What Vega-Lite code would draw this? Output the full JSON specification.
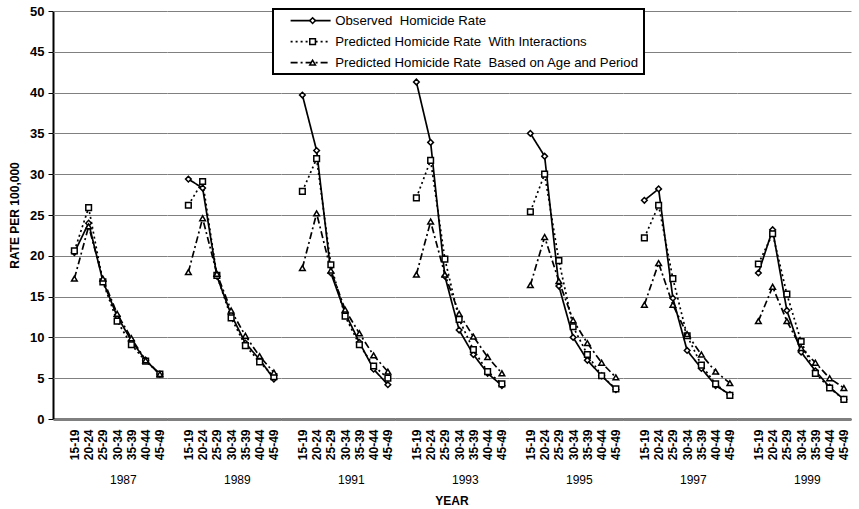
{
  "$schema": "https://vega.github.io/schema/vega-lite/v6.json",
  "background": "white",
  "padding": {"left": 8, "top": 5, "right": 5, "bottom": 0},
  "data": {"values": [
    {"year": "1987", "age": "15-19", "series": "A", "rate": 20.4},
    {"year": "1987", "age": "20-24", "series": "A", "rate": 24.0},
    {"year": "1987", "age": "25-29", "series": "A", "rate": 16.9},
    {"year": "1987", "age": "30-34", "series": "A", "rate": 12.6},
    {"year": "1987", "age": "35-39", "series": "A", "rate": 9.6},
    {"year": "1987", "age": "40-44", "series": "A", "rate": 7.2},
    {"year": "1987", "age": "45-49", "series": "A", "rate": 5.5},
    {"year": "1987", "age": "15-19", "series": "B", "rate": 20.6},
    {"year": "1987", "age": "20-24", "series": "B", "rate": 25.9},
    {"year": "1987", "age": "25-29", "series": "B", "rate": 16.8},
    {"year": "1987", "age": "30-34", "series": "B", "rate": 12.0},
    {"year": "1987", "age": "35-39", "series": "B", "rate": 9.1},
    {"year": "1987", "age": "40-44", "series": "B", "rate": 7.1},
    {"year": "1987", "age": "45-49", "series": "B", "rate": 5.5},
    {"year": "1987", "age": "15-19", "series": "C", "rate": 17.2},
    {"year": "1987", "age": "20-24", "series": "C", "rate": 23.6},
    {"year": "1987", "age": "25-29", "series": "C", "rate": 17.2},
    {"year": "1987", "age": "30-34", "series": "C", "rate": 12.9},
    {"year": "1987", "age": "35-39", "series": "C", "rate": 9.9},
    {"year": "1987", "age": "40-44", "series": "C", "rate": 7.2},
    {"year": "1987", "age": "45-49", "series": "C", "rate": 5.5},
    {"year": "1989", "age": "15-19", "series": "A", "rate": 29.4},
    {"year": "1989", "age": "20-24", "series": "A", "rate": 28.3},
    {"year": "1989", "age": "25-29", "series": "A", "rate": 17.5},
    {"year": "1989", "age": "30-34", "series": "A", "rate": 12.8},
    {"year": "1989", "age": "35-39", "series": "A", "rate": 9.3},
    {"year": "1989", "age": "40-44", "series": "A", "rate": 7.3},
    {"year": "1989", "age": "45-49", "series": "A", "rate": 4.9},
    {"year": "1989", "age": "15-19", "series": "B", "rate": 26.2},
    {"year": "1989", "age": "20-24", "series": "B", "rate": 29.1},
    {"year": "1989", "age": "25-29", "series": "B", "rate": 17.6},
    {"year": "1989", "age": "30-34", "series": "B", "rate": 12.4},
    {"year": "1989", "age": "35-39", "series": "B", "rate": 9.0},
    {"year": "1989", "age": "40-44", "series": "B", "rate": 7.0},
    {"year": "1989", "age": "45-49", "series": "B", "rate": 5.2},
    {"year": "1989", "age": "15-19", "series": "C", "rate": 18.0},
    {"year": "1989", "age": "20-24", "series": "C", "rate": 24.6},
    {"year": "1989", "age": "25-29", "series": "C", "rate": 17.8},
    {"year": "1989", "age": "30-34", "series": "C", "rate": 13.3},
    {"year": "1989", "age": "35-39", "series": "C", "rate": 10.2},
    {"year": "1989", "age": "40-44", "series": "C", "rate": 7.7},
    {"year": "1989", "age": "45-49", "series": "C", "rate": 5.7},
    {"year": "1991", "age": "15-19", "series": "A", "rate": 39.7},
    {"year": "1991", "age": "20-24", "series": "A", "rate": 32.9},
    {"year": "1991", "age": "25-29", "series": "A", "rate": 17.9},
    {"year": "1991", "age": "30-34", "series": "A", "rate": 13.0},
    {"year": "1991", "age": "35-39", "series": "A", "rate": 9.4},
    {"year": "1991", "age": "40-44", "series": "A", "rate": 6.1},
    {"year": "1991", "age": "45-49", "series": "A", "rate": 4.2},
    {"year": "1991", "age": "15-19", "series": "B", "rate": 27.9},
    {"year": "1991", "age": "20-24", "series": "B", "rate": 31.9},
    {"year": "1991", "age": "25-29", "series": "B", "rate": 18.9},
    {"year": "1991", "age": "30-34", "series": "B", "rate": 12.6},
    {"year": "1991", "age": "35-39", "series": "B", "rate": 9.1},
    {"year": "1991", "age": "40-44", "series": "B", "rate": 6.5},
    {"year": "1991", "age": "45-49", "series": "B", "rate": 5.0},
    {"year": "1991", "age": "15-19", "series": "C", "rate": 18.5},
    {"year": "1991", "age": "20-24", "series": "C", "rate": 25.2},
    {"year": "1991", "age": "25-29", "series": "C", "rate": 18.2},
    {"year": "1991", "age": "30-34", "series": "C", "rate": 13.4},
    {"year": "1991", "age": "35-39", "series": "C", "rate": 10.5},
    {"year": "1991", "age": "40-44", "series": "C", "rate": 7.8},
    {"year": "1991", "age": "45-49", "series": "C", "rate": 5.8},
    {"year": "1993", "age": "15-19", "series": "A", "rate": 41.3},
    {"year": "1993", "age": "20-24", "series": "A", "rate": 33.9},
    {"year": "1993", "age": "25-29", "series": "A", "rate": 17.5},
    {"year": "1993", "age": "30-34", "series": "A", "rate": 10.9},
    {"year": "1993", "age": "35-39", "series": "A", "rate": 7.9},
    {"year": "1993", "age": "40-44", "series": "A", "rate": 5.6},
    {"year": "1993", "age": "45-49", "series": "A", "rate": 4.1},
    {"year": "1993", "age": "15-19", "series": "B", "rate": 27.1},
    {"year": "1993", "age": "20-24", "series": "B", "rate": 31.7},
    {"year": "1993", "age": "25-29", "series": "B", "rate": 19.6},
    {"year": "1993", "age": "30-34", "series": "B", "rate": 12.2},
    {"year": "1993", "age": "35-39", "series": "B", "rate": 8.5},
    {"year": "1993", "age": "40-44", "series": "B", "rate": 5.8},
    {"year": "1993", "age": "45-49", "series": "B", "rate": 4.3},
    {"year": "1993", "age": "15-19", "series": "C", "rate": 17.7},
    {"year": "1993", "age": "20-24", "series": "C", "rate": 24.2},
    {"year": "1993", "age": "25-29", "series": "C", "rate": 17.7},
    {"year": "1993", "age": "30-34", "series": "C", "rate": 12.9},
    {"year": "1993", "age": "35-39", "series": "C", "rate": 10.1},
    {"year": "1993", "age": "40-44", "series": "C", "rate": 7.6},
    {"year": "1993", "age": "45-49", "series": "C", "rate": 5.6},
    {"year": "1995", "age": "15-19", "series": "A", "rate": 35.0},
    {"year": "1995", "age": "20-24", "series": "A", "rate": 32.2},
    {"year": "1995", "age": "25-29", "series": "A", "rate": 16.3},
    {"year": "1995", "age": "30-34", "series": "A", "rate": 10.0},
    {"year": "1995", "age": "35-39", "series": "A", "rate": 7.2},
    {"year": "1995", "age": "40-44", "series": "A", "rate": 5.3},
    {"year": "1995", "age": "45-49", "series": "A", "rate": 3.6},
    {"year": "1995", "age": "15-19", "series": "B", "rate": 25.4},
    {"year": "1995", "age": "20-24", "series": "B", "rate": 30.0},
    {"year": "1995", "age": "25-29", "series": "B", "rate": 19.4},
    {"year": "1995", "age": "30-34", "series": "B", "rate": 11.3},
    {"year": "1995", "age": "35-39", "series": "B", "rate": 7.9},
    {"year": "1995", "age": "40-44", "series": "B", "rate": 5.3},
    {"year": "1995", "age": "45-49", "series": "B", "rate": 3.7},
    {"year": "1995", "age": "15-19", "series": "C", "rate": 16.4},
    {"year": "1995", "age": "20-24", "series": "C", "rate": 22.3},
    {"year": "1995", "age": "25-29", "series": "C", "rate": 16.9},
    {"year": "1995", "age": "30-34", "series": "C", "rate": 12.1},
    {"year": "1995", "age": "35-39", "series": "C", "rate": 9.3},
    {"year": "1995", "age": "40-44", "series": "C", "rate": 6.9},
    {"year": "1995", "age": "45-49", "series": "C", "rate": 5.1},
    {"year": "1997", "age": "15-19", "series": "A", "rate": 26.8},
    {"year": "1997", "age": "20-24", "series": "A", "rate": 28.2},
    {"year": "1997", "age": "25-29", "series": "A", "rate": 14.8},
    {"year": "1997", "age": "30-34", "series": "A", "rate": 8.4},
    {"year": "1997", "age": "35-39", "series": "A", "rate": 6.2},
    {"year": "1997", "age": "40-44", "series": "A", "rate": 4.1},
    {"year": "1997", "age": "45-49", "series": "A", "rate": 3.0},
    {"year": "1997", "age": "15-19", "series": "B", "rate": 22.2},
    {"year": "1997", "age": "20-24", "series": "B", "rate": 26.2},
    {"year": "1997", "age": "25-29", "series": "B", "rate": 17.2},
    {"year": "1997", "age": "30-34", "series": "B", "rate": 10.2},
    {"year": "1997", "age": "35-39", "series": "B", "rate": 6.6},
    {"year": "1997", "age": "40-44", "series": "B", "rate": 4.3},
    {"year": "1997", "age": "45-49", "series": "B", "rate": 2.9},
    {"year": "1997", "age": "15-19", "series": "C", "rate": 14.0},
    {"year": "1997", "age": "20-24", "series": "C", "rate": 19.1},
    {"year": "1997", "age": "25-29", "series": "C", "rate": 14.0},
    {"year": "1997", "age": "30-34", "series": "C", "rate": 10.4},
    {"year": "1997", "age": "35-39", "series": "C", "rate": 7.9},
    {"year": "1997", "age": "40-44", "series": "C", "rate": 5.8},
    {"year": "1997", "age": "45-49", "series": "C", "rate": 4.4},
    {"year": "1999", "age": "15-19", "series": "A", "rate": 17.9},
    {"year": "1999", "age": "20-24", "series": "A", "rate": 23.2},
    {"year": "1999", "age": "25-29", "series": "A", "rate": 13.3},
    {"year": "1999", "age": "30-34", "series": "A", "rate": 8.2},
    {"year": "1999", "age": "35-39", "series": "A", "rate": 5.9},
    {"year": "1999", "age": "40-44", "series": "A", "rate": 3.9},
    {"year": "1999", "age": "45-49", "series": "A", "rate": 2.4},
    {"year": "1999", "age": "15-19", "series": "B", "rate": 19.0},
    {"year": "1999", "age": "20-24", "series": "B", "rate": 22.7},
    {"year": "1999", "age": "25-29", "series": "B", "rate": 15.3},
    {"year": "1999", "age": "30-34", "series": "B", "rate": 9.5},
    {"year": "1999", "age": "35-39", "series": "B", "rate": 5.6},
    {"year": "1999", "age": "40-44", "series": "B", "rate": 3.8},
    {"year": "1999", "age": "45-49", "series": "B", "rate": 2.4},
    {"year": "1999", "age": "15-19", "series": "C", "rate": 12.0},
    {"year": "1999", "age": "20-24", "series": "C", "rate": 16.2},
    {"year": "1999", "age": "25-29", "series": "C", "rate": 12.0},
    {"year": "1999", "age": "30-34", "series": "C", "rate": 8.7},
    {"year": "1999", "age": "35-39", "series": "C", "rate": 6.9},
    {"year": "1999", "age": "40-44", "series": "C", "rate": 5.0},
    {"year": "1999", "age": "45-49", "series": "C", "rate": 3.8}
  ]},
  "spacing": 0,
  "facet": {
    "column": {
      "field": "year", "type": "ordinal",
      "header": {
        "title": "YEAR",
        "labelOrient": "bottom",
        "titleOrient": "bottom",
        "labelFont": "Liberation Sans",
        "labelFontSize": 12,
        "labelColor": "black",
        "labelAlign": "left",
        "labelPadding": 15,
        "titleFont": "Liberation Sans",
        "titleFontSize": 12,
        "titleFontWeight": "bold",
        "titleColor": "black",
        "titlePadding": 0
      }
    }
  },
  "spec": {
    "width": 114,
    "height": 408,
    "encoding": {
      "x": {
        "field": "age", "type": "ordinal",
        "scale": {"type": "point", "padding": 1, "align": 0.75},
        "axis": {
          "title": null, "labelAngle": -90, "ticks": false, "grid": false,
          "domainColor": "black", "domainWidth": 2,
          "labelFont": "Liberation Sans", "labelFontSize": 12, "labelFontWeight": "bold",
          "labelColor": "black", "labelPadding": 10
        }
      },
      "y": {
        "field": "rate", "type": "quantitative",
        "scale": {"domain": [0, 50], "nice": false},
        "axis": {
          "title": "RATE PER 100,000",
          "values": [0, 5, 10, 15, 20, 25, 30, 35, 40, 45, 50],
          "grid": true, "gridColor": "#808080", "gridWidth": 1,
          "domainColor": "black", "domainWidth": 2,
          "tickColor": "black", "tickSize": 5, "tickWidth": 1,
          "labelFont": "Liberation Sans", "labelFontSize": 13, "labelFontWeight": "bold",
          "labelColor": "black", "labelPadding": 4,
          "titleFont": "Liberation Sans", "titleFontSize": 12, "titleFontWeight": "bold",
          "titleColor": "black", "titlePadding": 8
        }
      }
    },
    "layer": [
      {
        "mark": {"type": "line", "color": "black", "strokeWidth": 1.7},
        "encoding": {
          "strokeDash": {
            "field": "series", "type": "nominal", "sort": ["A", "B", "C"],
            "scale": {"range": [[1, 0], [2, 3], [7, 3, 2, 3]]},
            "legend": {
              "orient": "none", "legendX": 220, "legendY": -2, "title": null,
              "symbolType": "M-4,0H4", "symbolSize": 100, "symbolOffset": 26,
              "symbolStrokeColor": "black", "symbolStrokeWidth": 1.6,
              "labelOffset": 18, "labelFont": "Liberation Sans", "labelFontSize": 13.2,
              "labelLimit": 500,
              "labelColor": "black", "rowPadding": 7, "padding": 5,
              "fillColor": "white", "strokeColor": "black",
              "zindex": 1,
              "labelExpr": "datum.value == 'A' ? 'Observed\u00a0 Homicide Rate' : datum.value == 'B' ? 'Predicted Homicide Rate\u00a0 With Interactions' : 'Predicted Homicide Rate\u00a0 Based on Age and Period'"
            }
          }
        }
      },
      {
        "mark": {"type": "point", "filled": true, "fill": "white", "stroke": "black", "strokeWidth": 1.5, "opacity": 1, "size": 32},
        "encoding": {
          "shape": {
            "field": "series", "type": "nominal",
            "scale": {"domain": ["A", "B", "C"], "range": ["diamond", "square", "triangle-up"]},
            "legend": {
              "orient": "none", "legendX": 220, "legendY": -2, "title": null,
              "symbolSize": 32, "symbolOffset": 28,
              "labelFont": "Liberation Sans", "labelFontSize": 13.2,
              "rowPadding": 7, "padding": 5, "zindex": 2,
              "labelExpr": "''",
              "encode": {
                "symbols": {
                  "update": {
                    "fill": {"value": "white"},
                    "stroke": {"value": "black"},
                    "strokeWidth": {"value": 1.5},
                    "opacity": {"value": 1}
                  }
                }
              }
            }
          }
        }
      }
    ]
  },
  "config": {
    "font": "Liberation Sans",
    "view": {"stroke": null},
    "legend": {"strokeWidth": 2}
  }
}
